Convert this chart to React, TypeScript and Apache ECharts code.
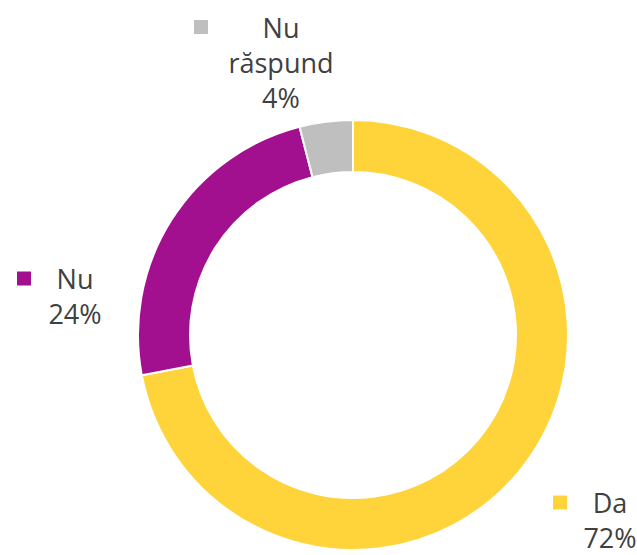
import React, { useEffect, useRef } from "react";
import * as echarts from "echarts";

const categories = ["Da", "Nu", "Nu răspund"];
const values = [72, 24, 4];
const colors = ["#FED43A", "#A3108F", "#BFBFBF"];
// label layout: [markerLeft x, block center y, text block width, line height]
const labelLayouts: [number, number, number, number][] = [
  [553, 520, 54, 35],
  [17, 296, 56, 35],
  [194, 62, 114, 35],
];

export default function App() {
  const ref = useRef<HTMLDivElement>(null);
  useEffect(() => {
    if (!ref.current) return;
    const chart = echarts.init(ref.current, undefined, { renderer: "svg" });
    const font = "'Open Sans', Lato, sans-serif";
    const data = categories.map((name, i) => {
      const lines = name.split(" ");
      const first = `{m|}{g|}{t|${lines[0]}}`;
      const rest = lines.slice(1).map((l) => `{s|}{t|${l}}`);
      rest.push(`{s|}{t|${values[i]}%}`);
      return {
        name,
        value: values[i],
        itemStyle: { color: colors[i] },
        label: {
          formatter: [first, ...rest].join("\n"),
          rich: {
            m: { width: 14, height: 14, backgroundColor: colors[i] },
            g: { width: 16 },
            s: { width: 30 },
            t: {
              width: labelLayouts[i][2],
              align: "center",
              fontSize: 27,
              lineHeight: labelLayouts[i][3],
              color: "#404040",
              fontFamily: font,
            },
          },
        },
      };
    });
    chart.setOption({
      animation: false,
      series: [
        {
          type: "pie",
          center: [353, 335],
          radius: [163, 215],
          startAngle: 90,
          clockwise: true,
          avoidLabelOverlap: false,
          itemStyle: { borderColor: "#ffffff", borderWidth: 2 },
          label: { show: true, position: "outside" },
          labelLine: { show: false },
          labelLayout: (params: any) => {
            const l = labelLayouts[params.dataIndex];
            return { x: l[0], y: l[1], align: "left", verticalAlign: "middle" };
          },
          emphasis: { disabled: true },
          data,
        },
      ],
    });
    return () => chart.dispose();
  }, []);
  return (
    <div
      ref={ref}
      style={{ position: "fixed", left: 0, top: 0, width: 637, height: 555, background: "#fff" }}
    />
  );
}
